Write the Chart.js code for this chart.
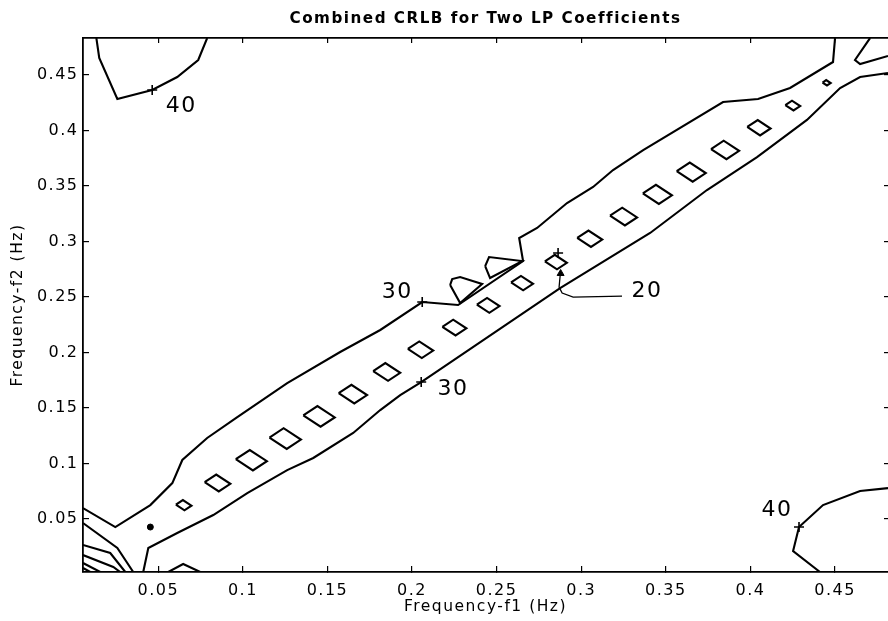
<!DOCTYPE html>
<html lang="en">
<head>
  <meta charset="UTF-8">
  <title>Combined CRLB for Two LP Coefficients</title>
  <script src="https://cdn.jsdelivr.net/npm/chart.js"></script>
  <style>
    body {
      margin: 0;
      background: #ffffff;
    }

    .chart-box {
      width: 888px;
      height: 621px;
    }
  </style>
</head>
<body>
  <div class="chart-box">
    <canvas id="crlbChart"></canvas>
  </div>

  <script>
    // axis ticks
    const xTicks = [0.05, 0.1, 0.15, 0.2, 0.25, 0.3, 0.35, 0.4, 0.45];
    const xTickLabels = ['0.05', '0.1', '0.15', '0.2', '0.25', '0.3', '0.35', '0.4', '0.45'];
    const yTicks = [0.05, 0.1, 0.15, 0.2, 0.25, 0.3, 0.35, 0.4, 0.45];
    const yTickLabels = ['0.05', '0.1', '0.15', '0.2', '0.25', '0.3', '0.35', '0.4', '0.45'];

    // contour lines: f1 (x) and f2 (y) in Hz
    const upperEdgeX = [0.0055, 0.0246, 0.0453, 0.0583, 0.0642, 0.0789, 0.0967, 0.1262, 0.1575, 0.1812, 0.2060, 0.2272, 0.2656, 0.2633, 0.2739, 0.2916, 0.3070, 0.3188, 0.3366, 0.3838, 0.4045, 0.4234, 0.4488, 0.4500];
    const upperEdgeY = [0.0599, 0.0428, 0.0626, 0.0824, 0.1032, 0.1230, 0.1419, 0.1725, 0.2005, 0.2203, 0.2455, 0.2428, 0.2824, 0.3032, 0.3122, 0.3347, 0.3491, 0.3644, 0.3824, 0.4257, 0.4284, 0.4383, 0.4617, 0.4833];

    const lowerEdgeX = [0.0411, 0.0441, 0.0612, 0.0825, 0.1026, 0.1262, 0.1416, 0.1652, 0.1812, 0.1930, 0.2054, 0.2875, 0.3407, 0.3743, 0.4039, 0.4334, 0.4530, 0.4648, 0.4813];
    const lowerEdgeY = [0.0023, 0.0239, 0.0374, 0.0536, 0.0734, 0.0941, 0.1050, 0.1275, 0.1482, 0.1617, 0.1734, 0.2581, 0.3077, 0.3464, 0.3761, 0.4095, 0.4383, 0.4482, 0.4518];

    const cornerTopLeftX = [0.0134, 0.0151, 0.0258, 0.0464, 0.0612, 0.0736, 0.0789];
    const cornerTopLeftY = [0.4833, 0.4653, 0.4284, 0.4365, 0.4482, 0.4635, 0.4833];

    const cornerBottomRightX = [0.4411, 0.4252, 0.4287, 0.4429, 0.4648, 0.4813];
    const cornerBottomRightY = [0.0023, 0.0212, 0.0428, 0.0626, 0.0752, 0.0779];

    const wedgeX = [0.4707, 0.4618, 0.4648, 0.4813];
    const wedgeY = [0.4833, 0.4635, 0.4599, 0.4671];

    const triangle1X = [0.2225, 0.2237, 0.2284, 0.2414, 0.2284, 0.2225];
    const triangle1Y = [0.2608, 0.2662, 0.2680, 0.2617, 0.2446, 0.2608];
    const triangle2X = [0.2432, 0.2455, 0.2650, 0.2461, 0.2432];
    const triangle2Y = [0.2779, 0.2860, 0.2824, 0.2671, 0.2779];

    // nested contours in the bottom-left corner
    const cornerB_X = [0.0055, 0.0258, 0.0352];
    const cornerB_Y = [0.0464, 0.0239, 0.0023];
    const cornerC_X = [0.0055, 0.0216, 0.0305];
    const cornerC_Y = [0.0266, 0.0194, 0.0023];
    const cornerD_X = [0.0055, 0.0234, 0.0275];
    const cornerD_Y = [0.0176, 0.0068, 0.0023];
    const cornerE_X = [0.0055, 0.0157];
    const cornerE_Y = [0.0104, 0.0023];
    const cornerF_X = [0.0055, 0.0098];
    const cornerF_Y = [0.0059, 0.0023];
    const bumpX = [0.0559, 0.0647, 0.0748];
    const bumpY = [0.0023, 0.0095, 0.0023];

    // small closed contours (20) along the diagonal: centre and half size
    const diamondX = [0.065, 0.085, 0.105, 0.125, 0.145, 0.165, 0.185, 0.205, 0.225, 0.245, 0.265, 0.285, 0.305, 0.325, 0.345, 0.365, 0.385, 0.405, 0.425, 0.445];
    const diamondY = [0.0625, 0.0825, 0.1030, 0.1225, 0.1425, 0.1625, 0.1825, 0.2025, 0.2225, 0.2425, 0.2625, 0.2815, 0.3025, 0.3225, 0.3425, 0.3625, 0.3825, 0.4025, 0.4225, 0.4430];
    const diamondSize = [0.0046, 0.0076, 0.0092, 0.0093, 0.0093, 0.0084, 0.0080, 0.0075, 0.0071, 0.0067, 0.0065, 0.0065, 0.0074, 0.0080, 0.0086, 0.0086, 0.0083, 0.0069, 0.0044, 0.0024];

    const dotX = [0.0453];
    const dotY = [0.0428];

    // "+" label markers on the contours
    const markerX = [0.0464, 0.2060, 0.2054, 0.2863, 0.4287];
    const markerY = [0.4365, 0.2455, 0.1734, 0.2896, 0.0428];

    // leader arrow for the 20 label
    const leaderX = [0.3241, 0.2952, 0.2887, 0.2869, 0.2875];
    const leaderY = [0.2509, 0.2500, 0.2536, 0.2590, 0.2689];
    const arrowX = [0.2878];
    const arrowY = [0.2712];

    // contour level labels
    const labelText = ['40', '30', '30', '20', '40'];
    const labelX = [0.0636, 0.1912, 0.2242, 0.3389, 0.4157];
    const labelY = [0.4221, 0.2545, 0.1671, 0.2554, 0.0581];

    function zip(xs, ys) {
      return xs.map((x, i) => ({ x: x, y: ys[i] }));
    }

    function contour(xs, ys) {
      return {
        data: zip(xs, ys),
        showLine: true,
        borderColor: '#000',
        borderWidth: 2.1,
        pointRadius: 0,
        tension: 0
      };
    }

    const datasets = [
      contour(upperEdgeX, upperEdgeY),
      contour(lowerEdgeX, lowerEdgeY),
      contour(cornerTopLeftX, cornerTopLeftY),
      contour(cornerBottomRightX, cornerBottomRightY),
      contour(wedgeX, wedgeY),
      contour(triangle1X, triangle1Y),
      contour(triangle2X, triangle2Y),
      contour(cornerB_X, cornerB_Y),
      contour(cornerC_X, cornerC_Y),
      contour(cornerD_X, cornerD_Y),
      contour(cornerE_X, cornerE_Y),
      contour(cornerF_X, cornerF_Y),
      contour(bumpX, bumpY)
    ];

    diamondX.forEach((cx, i) => {
      const cy = diamondY[i];
      const d = diamondSize[i];
      datasets.push(contour(
        [cx - d, cx - 0.1 * d, cx + d, cx + 0.1 * d, cx - d],
        [cy + 0.1 * d, cy + d, cy - 0.1 * d, cy - d, cy + 0.1 * d]
      ));
    });

    const leader = contour(leaderX, leaderY);
    leader.borderWidth = 1.3;
    datasets.push(leader);

    datasets.push({
      data: zip(arrowX, arrowY),
      pointStyle: 'triangle',
      pointRadius: 4,
      backgroundColor: '#000',
      borderColor: '#000',
      borderWidth: 1
    });

    datasets.push({
      data: zip(dotX, dotY),
      pointStyle: 'circle',
      pointRadius: 3,
      backgroundColor: '#000',
      borderColor: '#000'
    });

    datasets.push({
      data: zip(markerX, markerY),
      pointStyle: 'cross',
      pointRadius: 5,
      borderColor: '#000',
      borderWidth: 1.6
    });

    const spacing = {
      id: 'spacing',
      beforeDraw(chart) {
        chart.ctx.letterSpacing = '1.5px';
      }
    };

    const levelLabels = {
      id: 'levelLabels',
      afterDatasetsDraw(chart) {
        const ctx = chart.ctx;
        const xs = chart.scales.x;
        const ys = chart.scales.y;
        ctx.save();
        ctx.font = '22px "DejaVu Sans"';
        ctx.fillStyle = '#000';
        ctx.textAlign = 'center';
        ctx.textBaseline = 'middle';
        labelText.forEach((t, i) => {
          ctx.fillText(t, xs.getPixelForValue(labelX[i]), ys.getPixelForValue(labelY[i]));
        });
        ctx.restore();
      }
    };

    const tickFont = { family: 'DejaVu Sans', size: 16 };
    const xMin = 0.0055, xMax = 0.4813;
    const yMin = 0.0023, yMax = 0.4833;

    function flatX(height) {
      return s => {
        s.height = height;
        s.paddingLeft = 0;
        s.paddingRight = 0;
      };
    }

    function flatY(width) {
      return s => {
        s.width = width;
        s.paddingTop = 0;
        s.paddingBottom = 0;
      };
    }

    new Chart(document.getElementById('crlbChart'), {
      type: 'scatter',
      data: { datasets: datasets },
      plugins: [spacing, levelLabels],
      options: {
        responsive: true,
        maintainAspectRatio: false,
        animation: false,
        layout: { padding: 0, autoPadding: false },
        plugins: {
          legend: { display: false },
          tooltip: { enabled: false },
          title: {
            display: true,
            text: 'Combined CRLB for Two LP Coefficients',
            color: '#000',
            fullSize: false,
            font: { family: 'DejaVu Sans', size: 15.2, weight: 'bold' },
            padding: { top: 9.5, bottom: 10.3 }
          }
        },
        scales: {
          x: {
            type: 'linear',
            position: 'bottom',
            min: xMin,
            max: xMax,
            afterBuildTicks: s => { s.ticks = xTicks.map(v => ({ value: v })); },
            afterFit: flatX(49),
            ticks: {
              color: '#000',
              font: tickFont,
              padding: 15,
              maxRotation: 0,
              callback: (v, i) => xTickLabels[i]
            },
            grid: { drawOnChartArea: false, tickLength: -6, color: '#000', lineWidth: 1.2 },
            border: { color: '#000', width: 1.8 },
            title: {
              display: true,
              text: 'Frequency-f1 (Hz)',
              color: '#000',
              font: { family: 'DejaVu Sans', size: 15.5 },
              padding: { top: 0, bottom: 4.7 }
            }
          },
          y: {
            type: 'linear',
            position: 'left',
            min: yMin,
            max: yMax,
            afterBuildTicks: s => { s.ticks = yTicks.map(v => ({ value: v })); },
            afterFit: flatY(83),
            ticks: {
              color: '#000',
              font: tickFont,
              padding: 10.5,
              callback: (v, i) => yTickLabels[i]
            },
            grid: { drawOnChartArea: false, tickLength: -6, color: '#000', lineWidth: 1.2 },
            border: { color: '#000', width: 1.8 },
            title: {
              display: true,
              text: 'Frequency-f2 (Hz)',
              color: '#000',
              font: { family: 'DejaVu Sans', size: 15.5 },
              padding: { top: 8.7, bottom: 0 }
            }
          },
          x2: {
            type: 'linear',
            position: 'top',
            min: xMin,
            max: xMax,
            afterBuildTicks: s => { s.ticks = xTicks.map(v => ({ value: v })); },
            afterFit: flatX(0),
            ticks: { display: false },
            grid: { drawOnChartArea: false, tickLength: -5, color: '#000', lineWidth: 1.2 },
            border: { color: '#000', width: 1.8 }
          },
          y2: {
            type: 'linear',
            position: 'right',
            min: yMin,
            max: yMax,
            afterBuildTicks: s => { s.ticks = yTicks.map(v => ({ value: v })); },
            afterFit: flatY(0),
            ticks: { display: false },
            grid: { drawOnChartArea: false, tickLength: -4, color: '#000', lineWidth: 1.2 },
            border: { display: false }
          }
        }
      }
    });
  </script>
</body>
</html>
